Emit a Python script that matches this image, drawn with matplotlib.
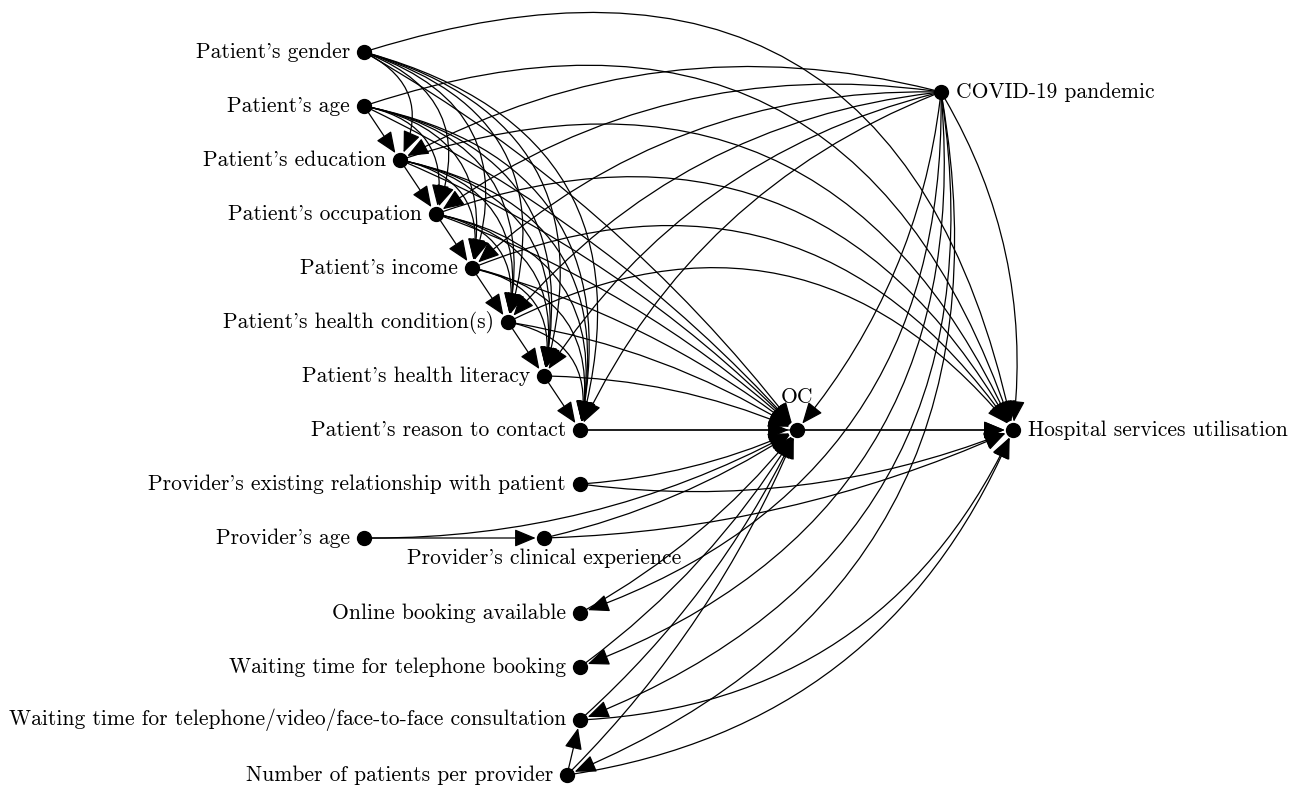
import matplotlib.pyplot as plt
from matplotlib.patches import FancyArrowPatch

# ---------------------------------------------------------------------------
# Graph data: node labels and directed edges
# ---------------------------------------------------------------------------

labels = {
    "gender": "Patient's gender",
    "age": "Patient's age",
    "edu": "Patient's education",
    "occ": "Patient's occupation",
    "inc": "Patient's income",
    "cond": "Patient's health condition(s)",
    "lit": "Patient's health literacy",
    "reason": "Patient's reason to contact",
    "rel": "Provider's existing relationship with patient",
    "page": "Provider's age",
    "exp": "Provider's clinical experience",
    "online": "Online booking available",
    "wtel": "Waiting time for telephone booking",
    "wcons": "Waiting time for telephone/video/face-to-face consultation",
    "npat": "Number of patients per provider",
    "oc": "OC",
    "covid": "COVID-19 pandemic",
    "hosp": "Hospital services utilisation",
}

patient = ["gender", "age", "edu", "occ", "inc", "cond", "lit", "reason"]
lower = ["online", "wtel", "wcons", "npat"]

# (source, target)
edges = []
for i, a in enumerate(patient):
    for b in patient[i + 1:]:
        if (a, b) != ("gender", "age"):
            edges.append((a, b))
    edges.append((a, "oc"))
    if a != "lit":
        edges.append((a, "hosp"))
edges += [("covid", n) for n in patient[2:]]
edges += [("covid", "oc"), ("covid", "hosp")]
edges += [("covid", n) for n in lower]
edges += [(n, "oc") for n in lower]
edges += [("wcons", "hosp"), ("npat", "hosp"), ("npat", "wcons")]
edges += [("rel", "oc"), ("rel", "hosp")]
edges += [("page", "exp"), ("page", "oc"), ("exp", "oc"), ("exp", "hosp")]
edges += [("oc", "hosp")]

# ---------------------------------------------------------------------------
# Layout (pixel positions, y down) and edge curvature
# ---------------------------------------------------------------------------

pos = {
    "gender": (364, 52), "age": (364, 106), "edu": (400, 160),
    "occ": (436, 214), "inc": (472, 268), "cond": (508, 322),
    "lit": (544, 376), "reason": (580, 430), "rel": (580, 484),
    "page": (364, 538), "exp": (544, 538), "online": (580, 613),
    "wtel": (580, 667), "wcons": (580, 720), "npat": (567, 775),
    "oc": (797, 430), "covid": (941, 92), "hosp": (1013, 430),
}

to_hosp = {"gender": 0.55, "age": 0.5, "edu": 0.45, "occ": 0.42,
           "inc": 0.4, "cond": 0.4, "reason": 0.0}
covid_low = {"online": 0.36, "wtel": 0.38, "wcons": 0.4, "npat": 0.4}
misc = {("rel", "oc"): -0.09, ("rel", "hosp"): -0.13,
        ("page", "oc"): -0.13, ("exp", "oc"): -0.09,
        ("exp", "hosp"): -0.1, ("wcons", "hosp"): -0.3,
        ("npat", "hosp"): -0.28}


def bend(a, b):
    """Positive = bulge to the left of the direction of travel."""
    if a in patient and b in patient:
        if patient.index(b) - patient.index(a) == 1 or (a, b) == ("age", "edu"):
            return 0.0
        return 0.5
    if a in patient and b == "oc":
        return 0.0 if a == "reason" else 0.1
    if a in patient and b == "hosp":
        return to_hosp[a]
    if a == "covid":
        if b in patient:
            return -0.2
        if b == "oc":
            return 0.15
        if b == "hosp":
            return 0.17
        return covid_low[b]
    if a in lower and b == "oc":
        return -0.1
    return misc.get((a, b), 0.0)


plt.rcParams["font.family"] = ["cmr10", "DejaVu Serif"]

fig = plt.figure(figsize=(12.89, 7.85), dpi=100)
ax = fig.add_axes([0, 0, 1, 1])
ax.set_xlim(0, 1289)
ax.set_ylim(785, 0)
ax.axis("off")

for a, b in edges:
    arr = FancyArrowPatch(
        pos[a], pos[b],
        connectionstyle=f"arc3,rad={-bend(a, b)}",
        arrowstyle="-|>,head_length=1.2,head_width=0.5",
        mutation_scale=11,
        shrinkA=5, shrinkB=6,
        lw=0.9, color="black", zorder=1,
    )
    ax.add_patch(arr)

for n, (x, y) in pos.items():
    ax.plot(x, y, "o", ms=10, color="black", zorder=3)

fs = 15.5
for n, (x, y) in pos.items():
    if n == "oc":
        ax.text(x, y - 27, labels[n], ha="center", va="baseline", fontsize=fs, zorder=4)
    elif n == "exp":
        ax.text(x, y + 10, labels[n], ha="center", va="top", fontsize=fs)
    elif n in ("covid", "hosp"):
        ax.text(x + 15, y, labels[n], ha="left", va="center", fontsize=fs)
    else:
        ax.text(x - 14, y, labels[n], ha="right", va="center", fontsize=fs)

fig.savefig("out.png", dpi=100)
